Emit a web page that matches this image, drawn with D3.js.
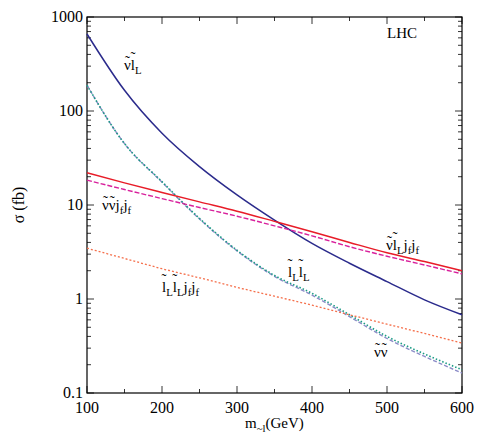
<!DOCTYPE html>
<html><head><meta charset="utf-8">
<script src="https://cdn.jsdelivr.net/npm/d3@7"></script>
<style>body{margin:0;background:#fff}text{font-family:"Liberation Serif",serif}</style>
</head><body>
<script>
// masses (GeV)
const mass = [100,150,200,250,300,350,400,450,500,550,600];
const snuSlep = [660,166,58,25.6,12.8,6.9,3.9,2.4,1.53,0.98,0.68];
const slepSlep = [188,45,17.7,7.2,3.3,1.78,1.15,0.68,0.40,0.26,0.177];
const snuSnu = [188,45,17.5,7.1,3.25,1.74,1.1,0.65,0.38,0.245,0.163];
const snuSlepJJ = [22,17.2,13.6,10.8,8.6,6.7,5.2,4.0,3.1,2.5,2.0];
const snuSnuJJ = [18.4,14.6,11.7,9.4,7.6,6.0,4.7,3.6,2.85,2.3,1.85];
const slepSlepJJ = [3.47,2.7,2.1,1.68,1.33,1.07,0.86,0.68,0.54,0.43,0.34];
const yTicks = [0.1,1,10,100,1000];
const xTicks = [100,200,300,400,500,600];

const W = 491, H = 436, m = {l:87, r:29, t:17, b:43};
const svg = d3.select("body").append("svg").attr("width", W).attr("height", H);
const x = d3.scaleLinear().domain([100,600]).range([m.l, W-m.r]);
const y = d3.scaleLog().domain([0.1,1000]).range([H-m.b, m.t]);
const line = d3.line().x((d,i) => x(mass[i])).y(d => y(d)).curve(d3.curveMonotoneX);

// frame
svg.append("rect").attr("x", m.l).attr("y", m.t).attr("width", W-m.l-m.r).attr("height", H-m.t-m.b)
    .attr("fill", "none").attr("stroke", "#000").attr("stroke-width", 1.2);

// ticks on all four sides, pointing inward
const g = svg.append("g").attr("stroke", "#000").attr("stroke-width", 0.8);
d3.range(100, 601, 50).forEach(v => {
    const len = v % 100 === 0 ? 7 : 4;
    g.append("line").attr("x1", x(v)).attr("x2", x(v)).attr("y1", H-m.b).attr("y2", H-m.b-len);
    g.append("line").attr("x1", x(v)).attr("x2", x(v)).attr("y1", m.t).attr("y2", m.t+len);
});
y.ticks().forEach(v => {
    const len = yTicks.includes(v) ? 7 : 4;
    g.append("line").attr("x1", m.l).attr("x2", m.l+len).attr("y1", y(v)).attr("y2", y(v));
    g.append("line").attr("x1", W-m.r).attr("x2", W-m.r-len).attr("y1", y(v)).attr("y2", y(v));
});

svg.selectAll(".xt").data(xTicks).enter().append("text")
    .attr("x", d => x(d)).attr("y", H-m.b+20).attr("text-anchor", "middle").attr("font-size", 16).text(d => d);
svg.selectAll(".yt").data(yTicks).enter().append("text")
    .attr("x", m.l-4).attr("y", d => y(d)+5).attr("text-anchor", "end").attr("font-size", 16).text(d => d);

// curves
const curves = [
    {d: snuSlep, c: "#2b2b8c", w: 1.5, dash: null},
    {d: snuSnu, c: "#8c8cc8", w: 1.4, dash: "4,2"},
    {d: slepSlep, c: "#1a9a84", w: 1.6, dash: "1.5,2"},
    {d: snuSlepJJ, c: "#e81c28", w: 1.5, dash: null},
    {d: snuSnuJJ, c: "#d8209c", w: 1.4, dash: "5,2"},
    {d: slepSlepJJ, c: "#f5704c", w: 1.3, dash: "2,2"}
];
curves.forEach(k => {
    svg.append("path").attr("d", line(k.d)).attr("fill", "none")
        .attr("stroke", k.c).attr("stroke-width", k.w).attr("stroke-dasharray", k.dash);
});

// labels: tokens "~x" = letter with tilde, "_x" = subscript, else plain
function label(px, py, tokens, size) {
    size = size || 15;
    let cx = px;
    tokens.forEach(tk => {
        let txt = tk, fs = size, dy = 0, tilde = false;
        if (tk[0] === "~") { txt = tk.slice(1); tilde = true; }
        else if (tk[0] === "_") { txt = tk.slice(1); fs = size * 0.72; dy = 4; }
        const t = svg.append("text").attr("x", cx).attr("y", py + dy).attr("font-size", fs).text(txt);
        const w = t.node().getComputedTextLength();
        if (tilde) {
            svg.append("text").attr("x", cx + w / 2).attr("y", py - (txt === "l" ? 8 : 4))
                .attr("text-anchor", "middle").attr("font-size", size).text("\u02DC");
        }
        cx += w;
    });
}
label(124, 70, ["~ν", "~l", "_L"]);
label(102, 210, ["~ν", " ", "~ν", " j", "_f", " j", "_f"]);
label(386, 250, ["~ν", " ", "~l", "_L", " j", "_f", " j", "_f"]);
label(288, 277, ["~l", "_L", "~l", "_L"]);
label(162, 292, ["~l", "_L", " ", "~l", "_L", " j", "_f", " j", "_f"]);
label(374, 357, ["~ν", " ", "~ν"]);
svg.append("text").attr("x", 387).attr("y", 38).attr("font-size", 15).text("LHC");

// axis titles
svg.append("text").attr("transform", "translate(24," + ((m.t+H-m.b)/2) + ") rotate(-90)")
    .attr("text-anchor", "middle").attr("font-size", 16).text("σ (fb)");
label(245, 428, ["m", "_~l", "(GeV)"]);
</script>
</body></html>
